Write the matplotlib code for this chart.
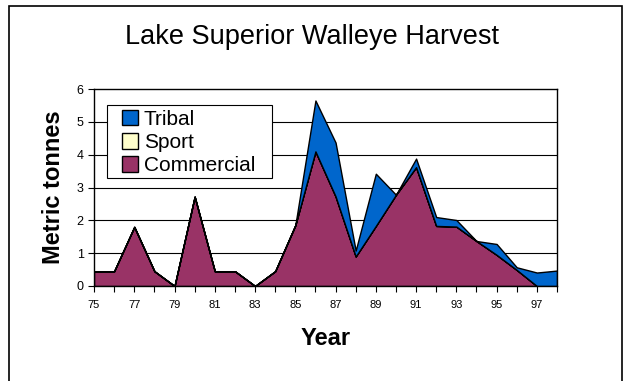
import numpy as np
import matplotlib.pyplot as plt
from matplotlib.patches import Rectangle

plt.rcParams['font.family'] = ['Liberation Sans', 'DejaVu Sans']

years = np.arange(75, 99)
commercial = [0.45, 0.45, 1.8, 0.45, 0.0, 2.72, 0.45, 0.45, 0.0, 0.45, 1.85, 4.1,
              2.73, 0.9, 1.83, 2.78, 3.62, 1.83, 1.81, 1.37, 0.95, 0.49, 0.0, 0.0]
sport = [0.0] * 24
total = [0.45, 0.45, 1.8, 0.45, 0.0, 2.72, 0.45, 0.45, 0.0, 0.45, 1.85, 5.65,
         4.37, 1.08, 3.42, 2.78, 3.88, 2.1, 2.01, 1.37, 1.28, 0.57, 0.41, 0.47]
tribal = [t - c - s for t, c, s in zip(total, commercial, sport)]

W, H = 624, 381
fig = plt.figure(figsize=(W / 100, H / 100), dpi=100)
ax = fig.add_axes([94 / W, 1 - 286 / H, 463 / W, 197 / H])

# outer chart frame
fig.patches.append(Rectangle((8.5 / W, -0.1), 613.5 / W, 1.1 - 6.5 / H,
                             transform=fig.transFigure, fill=False,
                             edgecolor='black', linewidth=1.2, clip_on=False))

for y in range(1, 6):
    ax.axhline(y, color='black', linewidth=0.8, zorder=0)

polys = ax.stackplot(years, commercial, sport, tribal,
                     colors=['#993366', '#FFFFCC', '#0066CC'],
                     labels=['Commercial', 'Sport', 'Tribal'],
                     edgecolor='black', linewidth=1.0, zorder=2)

ax.set_xlim(75, 98)
ax.set_ylim(0, 6)
ax.set_xticks(years)
ax.set_xticklabels([str(y) if (y - 75) % 2 == 0 else '' for y in years])
ax.set_yticks(range(7))
ax.tick_params(axis='x', labelsize=8, length=4, direction='out', pad=6)
ax.tick_params(axis='y', labelsize=9, length=4, direction='out')
for s in ax.spines.values():
    s.set_linewidth(1.0)

ax.set_xlabel('Year', fontsize=17, fontweight='bold', labelpad=12)
ax.set_ylabel('Metric tonnes', fontsize=17, fontweight='bold', labelpad=8)
fig.text(312 / W, 1 - 37 / H, 'Lake Superior Walleye Harvest', fontsize=19.5,
         ha='center', va='center')

# legend box drawn separately so it can be wider than its entries
ax.add_patch(Rectangle((107 / W, 1 - 178 / H), 165 / W, 73 / H,
                       transform=fig.transFigure, facecolor='white',
                       edgecolor='black', linewidth=0.8, zorder=4,
                       clip_on=False))
handles = [polys[2], polys[1], polys[0]]
leg = ax.legend(handles, ['Tribal', 'Sport', 'Commercial'],
                loc='upper left', bbox_to_anchor=(122 / W, 1 - 110 / H),
                bbox_transform=fig.transFigure,
                fontsize=15, frameon=False, borderpad=0, labelspacing=0.2,
                handlelength=0.75, handleheight=0.75, handletextpad=0.3,
                borderaxespad=0)
leg.set_zorder(5)

fig.savefig('out.png', dpi=100)
